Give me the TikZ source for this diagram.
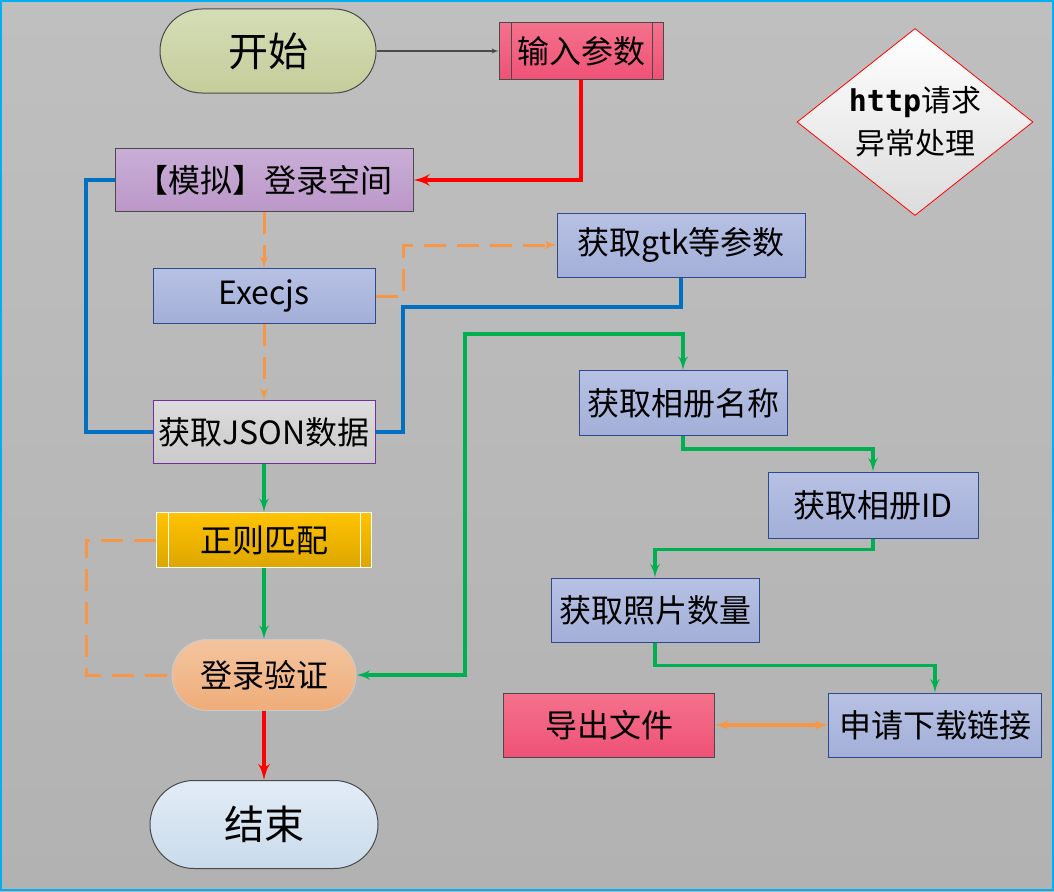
\documentclass[tikz,border=0pt]{standalone}
\usepackage{fontspec}
\setmainfont{Noto Sans CJK SC}
\newfontfamily\codefont{DejaVu Sans Mono}
\usetikzlibrary{arrows,positioning,shapes.geometric}

\definecolor{bgtop}{HTML}{BFBFBF}
\definecolor{bgbot}{HTML}{B2B2B2}
\definecolor{frame}{HTML}{00B0F0}
\definecolor{darkline}{HTML}{4A4A4A}
\definecolor{blueline}{HTML}{2F4A8A}
\definecolor{blueA}{HTML}{B7C1E4}
\definecolor{blueB}{HTML}{A3AFD8}
\definecolor{greenA}{HTML}{D5DDB6}
\definecolor{greenB}{HTML}{C5CD9B}
\definecolor{pinkA}{HTML}{F4718C}
\definecolor{pinkB}{HTML}{EF5276}
\definecolor{lilacA}{HTML}{C9AED7}
\definecolor{lilacB}{HTML}{BB97C8}
\definecolor{greyA}{HTML}{DCDCDC}
\definecolor{greyB}{HTML}{CACACA}
\definecolor{jsonline}{HTML}{7030A0}
\definecolor{goldA}{HTML}{FFC300}
\definecolor{goldB}{HTML}{DDA600}
\definecolor{peachA}{HTML}{F3C49F}
\definecolor{peachB}{HTML}{EFAD79}
\definecolor{iceA}{HTML}{E2ECF6}
\definecolor{iceB}{HTML}{C9DBEB}
\definecolor{flowblue}{HTML}{0070C0}
\definecolor{flowgreen}{HTML}{00B050}
\definecolor{floworange}{HTML}{F79646}
\definecolor{flowred}{HTML}{FF0000}

\begin{document}
\begin{tikzpicture}[x=1pt,y=-1pt,
    procbox/.style={rectangle,draw=blueline,line width=1pt,top color=blueA,
                    bottom color=blueB,inner sep=0pt,
                    font=\fontsize{32}{37}\selectfont},
    terminal/.style={procbox,draw=darkline,font=\fontsize{40}{46}\selectfont},
    grayflow/.style={draw=darkline,line width=1.3pt,-latex'},
    redflow/.style={draw=flowred,line width=4.5pt,-latex'},
    greenflow/.style={draw=flowgreen,line width=3.6pt,-latex'},
    blueflow/.style={draw=flowblue,line width=4pt},
    orangeflow/.style={draw=floworange,line width=3pt,
                       dash pattern=on 22pt off 11pt}]
    % background and frame
    \useasboundingbox (0,0) rectangle (1054,891);
    \shade[top color=bgtop,bottom color=bgbot] (0,0) rectangle (1054,891);
    \draw[frame,line width=2pt] (1,1) rectangle (1053,890);

    % left column
    \node[terminal,top color=greenA,bottom color=greenB,rounded corners=42pt,
          minimum width=216pt,minimum height=84pt](start) at (268,51){开始};
    \node[procbox,draw=darkline,top color=lilacA,bottom color=lilacB,
          minimum width=298pt,minimum height=63pt](login) at (264,180){【模拟】登录空间};
    \node[procbox,minimum width=222pt,minimum height=55pt,
          below=56pt of login](execjs){Execjs};
    \node[procbox,draw=jsonline,top color=greyA,bottom color=greyB,
          minimum width=222pt,minimum height=63pt,
          below=76pt of execjs](json){获取JSON数据};
    \node[procbox,draw=white,top color=goldA,bottom color=goldB,
          minimum width=215pt,minimum height=55pt,
          below=48pt of json](regex){正则匹配};
    \node[procbox,draw=greyB,top color=peachA,bottom color=peachB,
          rounded corners=35pt,minimum width=184pt,minimum height=71pt,
          below=71pt of regex](verify){登录验证};
    \node[terminal,top color=iceA,bottom color=iceB,rounded corners=44pt,
          minimum width=228pt,minimum height=88pt,
          below=69pt of verify](finish){结束};

    % right part
    \node[procbox,draw=darkline,top color=pinkA,bottom color=pinkB,
          minimum width=164pt,minimum height=56pt](input) at (581,51){输入参数};
    \node[diamond,draw=flowred,line width=0.8pt,top color=white,
          bottom color=greyA,aspect=1.26,inner sep=0pt,
          minimum width=236pt,minimum height=187pt,align=center,
          font=\fontsize{30}{43}\selectfont](except) at (915,122)
          {{\codefont\bfseries http}请求\\异常处理};
    \node[procbox,minimum width=248pt,minimum height=64pt](gtk) at (681,245){获取gtk等参数};
    \node[procbox,minimum width=208pt,minimum height=65pt](album) at (683,403){获取相册名称};
    \node[procbox,minimum width=210pt,minimum height=66pt](albumid) at (873,505){获取相册ID};
    \node[procbox,minimum width=208pt,minimum height=64pt](photos) at (655,610){获取照片数量};
    \node[procbox,draw=darkline,top color=pinkA,bottom color=pinkB,
          minimum width=211pt,minimum height=64pt](export) at (609,725){导出文件};
    \node[procbox,minimum width=213pt,minimum height=64pt](apply) at (935,725){申请下载链接};

    % side bars of the two process boxes
    \draw[darkline,line width=1pt]([xshift=13pt]input.north west)--([xshift=13pt]input.south west);
    \draw[darkline,line width=1pt]([xshift=-11pt]input.north east)--([xshift=-11pt]input.south east);
    \draw[white,line width=1pt]([xshift=12pt]regex.north west)--([xshift=12pt]regex.south west);
    \draw[white,line width=1pt]([xshift=-12pt]regex.north east)--([xshift=-12pt]regex.south east);

    \coordinate(jog) at (403,245);
    \coordinate(bend) at (403,307);
    \coordinate(gtop) at (465,334);

    % connectors
    \draw[grayflow](start)--(input);
    \draw[redflow](input.south)|-(login.east);
    \draw[blueflow](login.west)--++(-29,0)|-(json.west);
    \draw[blueflow](gtk.south)|-(bend)|-(json.east);
    \draw[orangeflow,-latex'](login.south)--(execjs.north);
    \draw[orangeflow,-latex'](execjs.south)--(json.north);
    \draw[orangeflow,-latex'](execjs.east)-|(jog)--(gtk.west);
    \draw[greenflow](json.south)--(regex.north);
    \draw[greenflow](regex.south)--(verify.north);
    \draw[orangeflow](regex.west)--++(-70,0)|-(verify.west);
    \draw[redflow](verify.south)--(finish.north);
    \draw[greenflow,latex'-latex'](verify.east)-|(gtop)-|(album.north);
    \draw[greenflow](album.south)--++(0,13)-|(albumid.north);
    \draw[greenflow](albumid.south)--++(0,11)-|(photos.north);
    \draw[greenflow](photos.south)--++(0,23)-|(apply.north);
    \draw[draw=floworange,line width=3.5pt,latex'-latex'](export.east)--(apply.west);
\end{tikzpicture}
\end{document}
